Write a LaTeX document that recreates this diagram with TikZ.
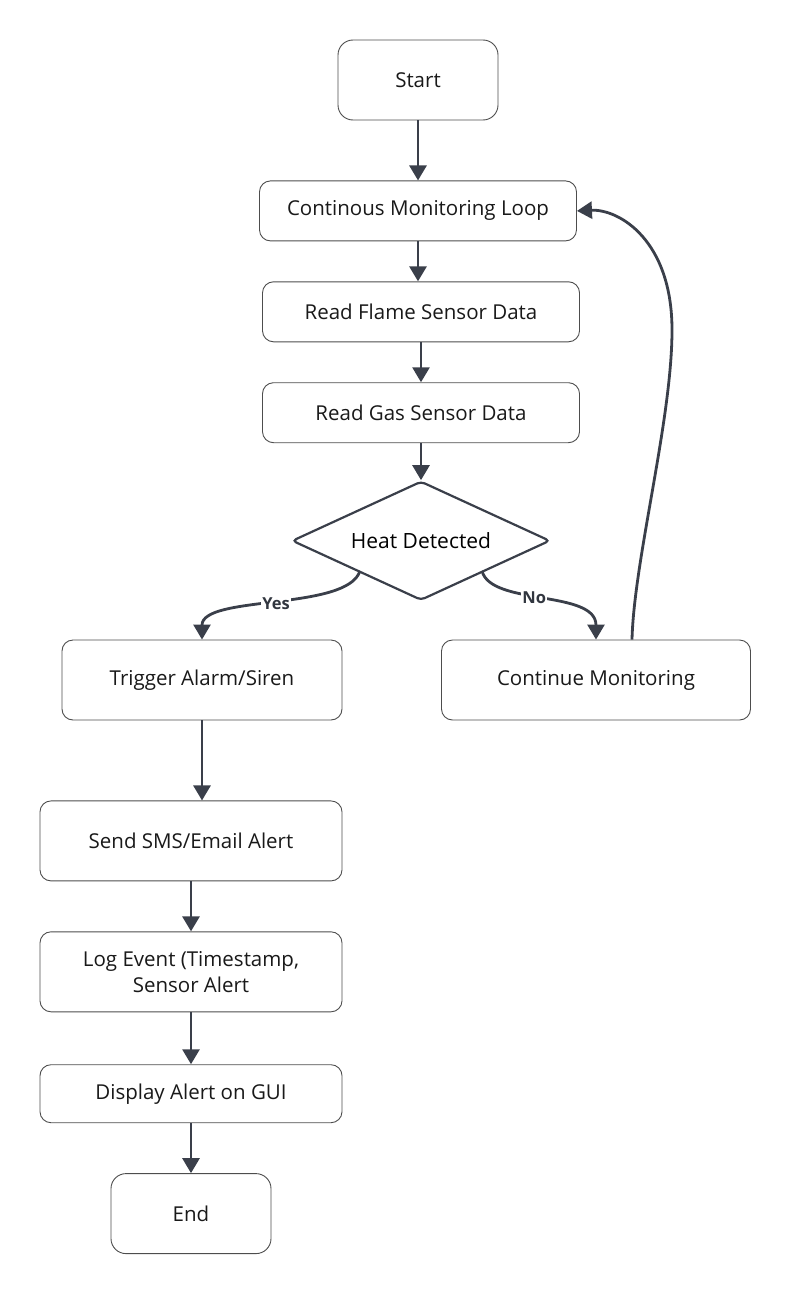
\documentclass[tikz,border=0pt]{standalone}
\usepackage{fontspec}
\setmainfont{Open Sans}
\usepackage{xcolor}
\usetikzlibrary{arrows.meta,positioning,shapes.geometric}
\definecolor{fcline}{HTML}{3A3F4A}
\definecolor{fcedge}{HTML}{4D4D4D}
\tikzset{
  fcbox/.style={draw=fcedge,line width=0.9pt,rounded corners=11pt,align=center,
    inner sep=4pt,minimum height=80pt,text=black!90,font=\fontsize{20.5}{26}\selectfont},
  fcterm/.style={fcbox,minimum width=160pt,rounded corners=15pt},
  fcstep/.style={fcbox,minimum height=60pt},
  fcdec/.style={diamond,aspect=2.17,draw=fcline,line width=2.2pt,rounded corners=4pt,
    minimum width=258pt,minimum height=119pt,inner sep=0pt,
    font=\fontsize{21}{26}\selectfont},
  fcflow/.style={-{Triangle[length=15pt,width=17pt]},line width=2.8pt,draw=fcline},
  fclabel/.style={fill=white,inner sep=1pt,text=fcline!85!black,
    font=\fontsize{16.5}{20}\selectfont\bfseries},
}
\begin{document}
\begin{tikzpicture}[x=1pt,y=-1pt]
\useasboundingbox (0,0) rectangle (791,1290);
% main column
\node[fcterm] (start) at (418,80) {Start};
\node[fcstep,minimum width=317pt,below=60pt of start] (loop) {Continous Monitoring Loop};
\node[fcstep,minimum width=317pt,below=40pt of loop,xshift=3pt] (flame) {Read Flame Sensor Data};
\node[fcstep,minimum width=317pt,below=40pt of flame] (gas) {Read Gas Sensor Data};
\node[fcdec,below=37pt of gas] (heat) {Heat Detected};
% branches
\node[fcbox,minimum width=280pt] (alarm) at (202,680) {Trigger Alarm/Siren};
\node[fcbox,minimum width=309pt] (cont) at (596,680) {Continue Monitoring};
\node[fcbox,minimum width=302pt,below=80pt of alarm,xshift=-11pt] (sms) {Send SMS/Email Alert};
\node[fcbox,minimum width=302pt,below=50pt of sms] (log) {Log Event (Timestamp,\\Sensor Alert};
\node[fcbox,minimum width=302pt,minimum height=58pt,below=52pt of log] (gui) {Display Alert on GUI};
\node[fcterm,below=50pt of gui] (end) {End};
% connectors
\draw[fcflow] (start) -- (loop);
\draw[fcflow] (flame.north -| loop.south) ++(0,-40) coordinate (lf) -- (lf |- flame.north);
\draw[fcflow] (flame) -- (gas);
\draw[fcflow] (gas) -- (heat);
\draw[fcflow] ([xshift=4pt]heat.south west) .. controls +(-13,40) and +(0,-45) .. node[fclabel,pos=0.5]{Yes} (alarm.north);
\draw[fcflow] ([xshift=-4pt]heat.south east) .. controls +(9,35) and +(0,-50) .. node[fclabel,pos=0.45]{No} (cont.north);
\draw[fcflow] ([xshift=36pt]cont.north) .. controls +(2,-80) and +(0,90) .. (672,330)
  .. controls +(0,-90) and +(42,-2) .. (loop.east);
\draw[fcflow] (alarm) -- (alarm |- sms.north);
\draw[fcflow] (sms) -- (log);
\draw[fcflow] (log) -- (gui);
\draw[fcflow] (gui) -- (end);
\end{tikzpicture}
\end{document}
